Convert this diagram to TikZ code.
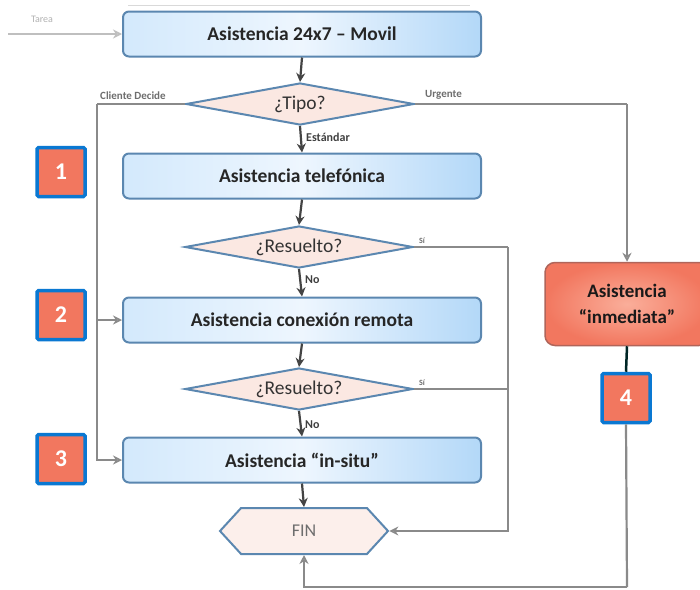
\documentclass[tikz,border=0pt]{standalone}
\usepackage{fontspec}
\setmainfont{Carlito}
\usetikzlibrary{shapes.geometric,shapes.symbols,arrows.meta}
\definecolor{boxline}{HTML}{5B87B0}
\definecolor{boxA}{HTML}{D3E9FC}
\definecolor{boxB}{HTML}{EEF6FE}
\definecolor{boxC}{HTML}{B3D8F8}
\definecolor{diafill}{HTML}{FBE8E2}
\definecolor{conn}{HTML}{8A8A8A}
\definecolor{darkconn}{HTML}{444444}
\definecolor{salmon}{HTML}{F2775F}
\definecolor{salmonlight}{HTML}{FAAE9A}
\definecolor{redline}{HTML}{B0655A}
\definecolor{badgeblue}{HTML}{0A78D2}
\definecolor{labgray}{HTML}{6E6E6E}
\tikzset{
  procbox/.style={draw=boxline, line width=2pt, rounded corners=6pt,
    left color=boxA, right color=boxC, middle color=boxB,
    minimum width=358pt, minimum height=45pt, font=\bfseries\fontsize{19.5}{22}\selectfont, text=black!85},
  decision/.style={diamond, draw=boxline, line width=2pt, fill=diafill, inner sep=0pt,
    minimum width=228pt, minimum height=42pt, aspect=5.4,
    font=\fontsize{19.5}{22}\selectfont, text=black!80},
  finbox/.style={signal, signal to=west and east, signal pointer angle=95,
    draw=boxline, line width=2pt, fill=diafill!70, minimum width=168pt, minimum height=46pt,
    font=\fontsize{18}{20}\selectfont, text=labgray},
  urgbox/.style={draw=redline, line width=1.5pt, rounded corners=10pt,
    inner color=salmonlight, outer color=salmon, minimum width=164pt, minimum height=83pt,
    align=center, font=\bfseries\fontsize{19}{26}\selectfont, text=black!90},
  badge/.style={draw=badgeblue, line width=3.5pt, fill=salmon, rounded corners=1.5pt,
    minimum width=48pt, minimum height=49pt, inner sep=0pt,
    font=\bfseries\fontsize{24}{26}\selectfont, text=white},
  garrow/.style={draw=conn, line width=2.2pt, -{Stealth[length=9pt,width=9pt,open]}},
  gline/.style={draw=conn, line width=2.2pt},
  darrow/.style={draw=darkconn, line width=2.2pt, -{Stealth[length=9pt,width=9pt]}},
  lab/.style={font=\bfseries\fontsize{11}{12}\selectfont, text=labgray, inner sep=1pt},
  dlab/.style={font=\bfseries\fontsize{12}{13}\selectfont, text=black!75, inner sep=1pt}
}
\begin{document}
\begin{tikzpicture}[x=1pt,y=-1pt]
\useasboundingbox[fill=white] (0,0) rectangle (700,589);
\clip (0,0) rectangle (700,589);
\draw[black!15, line width=1pt] (128,5) -- (470,5);
% nodes
\node[procbox] (top) at (302,34) {Asistencia 24x7 -- Movil};
\node[decision] (tipo) at (300,104) {¿Tipo?};
\node[procbox] (tel) at (302,176) {Asistencia telefónica};
\node[decision] (res1) at (299,247) {¿Resuelto?};
\node[procbox] (rem) at (302,320) {Asistencia conexión remota};
\node[decision] (res2) at (299,389) {¿Resuelto?};
\node[procbox] (ins) at (302,460) {Asistencia “in-situ”};
\node[finbox] (fin) at (304,531) {FIN};
\node[urgbox] (inm) at (627,304) {Asistencia\\“inmediata”};
\node[badge] (b1) at (61,172) {1};
\node[badge] (b2) at (61,315) {2};
\node[badge] (b3) at (61,459) {3};
\node[badge] (b4) at (626,398) {4};
% coordinates
\coordinate (tareaS) at (8,34);
\coordinate (cd) at (97,104);
\coordinate (cdmid) at (97,320);
\coordinate (urg) at (627,104);
\coordinate (si1) at (508,247);
\coordinate (si2) at (508,389);
\coordinate (bot) at (627,587);
% connectors
\draw[garrow, draw=black!25, line width=1.5pt] (tareaS) -- (top.west);
\node[lab, text=black!30, font=\fontsize{10}{11}\selectfont] (tarea) at (42,19) {Tarea};
\draw[darrow] (top.south) -- (tipo.north);
\draw[gline] (tipo.west) -- (cd);
\draw[garrow] (cd) |- (ins.west);
\draw[garrow] (cdmid) -- (rem.west);
\node[lab, anchor=south west] (lcd) at (99,101) {Cliente Decide};
\draw[gline] (tipo.east) -- (urg);
\draw[garrow] (urg) -- (inm.north);
\node[lab, anchor=south west] (lurg) at (424,101) {Urgente};
\draw[darrow] (tipo.south) -- (tel.north);
\node[dlab, anchor=west] (lest) at (305,137) {Estándar};
\draw[darrow] (tel.south) -- (res1.north);
\draw[gline] (res1.east) -- (si1);
\draw[garrow] (si1) |- (fin.east);
\node[lab, anchor=south west, font=\bfseries\fontsize{8}{9}\selectfont] (lsi1) at (418,245) {Sí};
\draw[darrow] (res1.south) -- (rem.north);
\node[dlab, anchor=west] (lno1) at (304,280) {No};
\draw[darrow] (rem.south) -- (res2.north);
\draw[gline] (res2.east) -- (si2);
\node[lab, anchor=south west, font=\bfseries\fontsize{8}{9}\selectfont] (lsi2) at (418,387) {Sí};
\draw[darrow] (res2.south) -- (ins.north);
\node[dlab, anchor=west] (lno2) at (304,425) {No};
\draw[darrow] (ins.south) -- (fin.north);
\draw[draw=black!70!teal, line width=2.5pt] (inm.south) -- (b4.north);
\draw[gline] (b4.south) -- (bot);
\draw[garrow] (bot) -| (fin.south);
\end{tikzpicture}
\end{document}
